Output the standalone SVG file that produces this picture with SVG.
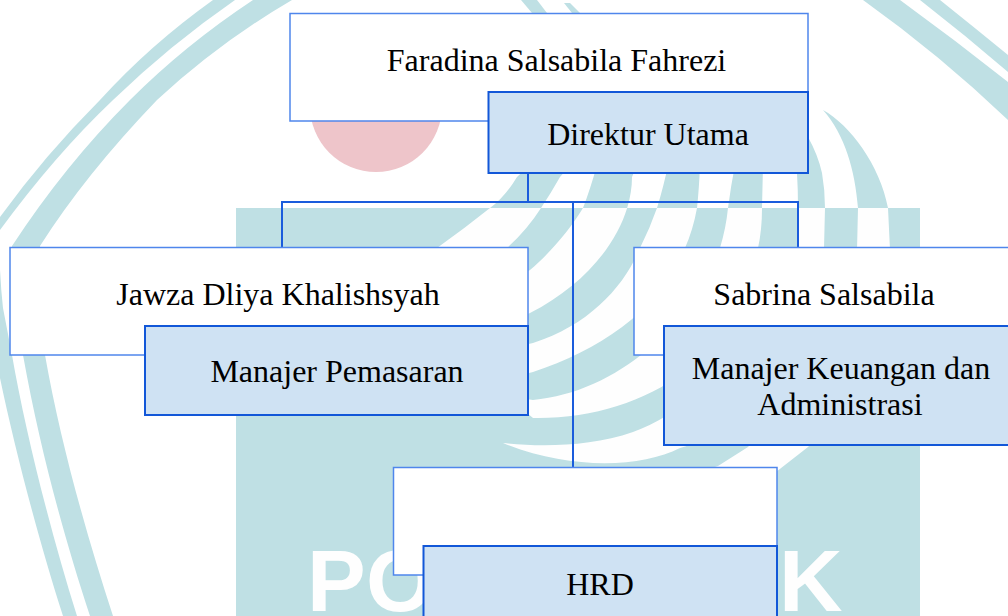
<svg xmlns="http://www.w3.org/2000/svg" width="1008" height="616" viewBox="0 0 1008 616">
<style>
.t{fill:#bfe0e4}
.w{fill:#fefefe}
.wm{font-family:"Liberation Sans",Arial,sans-serif;font-weight:700;font-size:88px;fill:#fefefe}
.name{fill:#fff;stroke:#4f86ec;stroke-width:1.5}
.role{fill:#cfe2f3;stroke:#1257d8;stroke-width:2}
.lbl{font-family:"Liberation Serif","Times New Roman",serif;font-size:32px;fill:#000;text-anchor:middle}
.c{fill:none;stroke:#1a5cdc;stroke-width:2}
</style>
<defs>
<clipPath id="above"><rect x="0" y="0" width="1008" height="208"/></clipPath>
<clipPath id="sq"><rect x="236" y="208" width="684" height="408"/></clipPath>
<g id="bands">
<path d="M535 160L575 160L560 177Q551 193 541 208Q527 230 507 248L507 262L437 262L437 248Q465 228 490 208Q505 197 517 177Z"/>
<path d="M597 165L637 165L632 177C632 225 595 280 530 313L480 335L480 300L530 270C548 255 570 230 583 208Q590 190 597 165Z"/>
<path d="M668 165L700 165Q699 190 697 208Q693 230 685 248C660 310 600 350 533 372L480 385L480 355L533 343C590 325 625 285 640 248Q650 228 657 208Q664 185 668 165Z"/>
<path d="M735 165L763 165L762 208Q762 230 758 248C745 350 650 420 533 418L527 413L500 405L500 395L533 400C620 392 695 320 720 248Q726 228 728 208Q731 185 735 165Z"/>
<path d="M790 120L808 137Q818 155 822 173Q825 190 825 208L824 248C820 340 745 430 680 448C640 468 570 470 503 443C540 447 590 447 633 432C700 408 790 320 798 248L798 208Q798 190 797 173Z"/>
<path d="M823 110C850 125 880 165 888 208L890 250C890 330 850 410 808 447L776 472L700 530L560 530L600 505L718 466L748 447C800 390 855 320 857 250L858 208C855 170 845 135 823 110Z"/>
</g>
</defs>
<rect width="1008" height="616" fill="#fff"/>
<g id="watermark">
<circle cx="376" cy="106" r="66" fill="#eec5ca"/>
<path class="t" d="M213 0Q150 45 100 100Q45 155 0 217L0 230Q55 155 113 100Q170 45 235 0Z"/>
<path class="t" d="M0 270Q1 290 3 308L12 355C25 430 50 530 77 616L63 616C40 545 15 450 0 378Z"/>
<path class="t" d="M253 0Q185 45 130 100Q65 165 12 246L13 300L23 355C40 450 65 540 90 616L113 616C85 530 60 440 45 355L40 300L40 246Q85 175 157 100Q220 42 292 0Z"/>
<path class="t" d="M863 0Q940 55 1008 120L1008 82Q955 40 900 0Z"/>
<path class="t" d="M920 0Q965 35 1008 72L1008 55Q975 28 940 0Z"/>
<path class="t" d="M521 0L537 0L547 13L532 13Z"/>
<path class="t" d="M564 3L570 3L580 13L572 13Z"/>
<rect class="t" x="236" y="208" width="684" height="408"/>
<use href="#bands" class="t" clip-path="url(#above)"/>
<use href="#bands" class="w" clip-path="url(#sq)"/>
<text class="wm" x="307" y="611">P</text>
<text class="wm" x="366" y="611">O</text>
<text class="wm" x="779" y="611">K</text>
</g>
<g id="connectors">
<path class="c" d="M528 173V202"/>
<path class="c" d="M282 247V202H798V247"/>
<path class="c" d="M573 202V467"/>
</g>
<g id="node-faradina">
<rect class="name" x="290" y="13.500" width="518" height="107.500"/>
<rect class="role" x="488.500" y="92" width="319.500" height="81"/>
<text class="lbl" x="556.500" y="71">Faradina Salsabila Fahrezi</text>
<text class="lbl" x="648" y="145">Direktur Utama</text>
</g>
<g id="node-jawza">
<rect class="name" x="10" y="247.500" width="518" height="107.500"/>
<rect class="role" x="145" y="326" width="383" height="89"/>
<text class="lbl" x="278" y="305">Jawza Dliya Khalishsyah</text>
<text class="lbl" x="337" y="382">Manajer Pemasaran</text>
</g>
<g id="node-sabrina">
<rect class="name" x="634" y="247.500" width="390" height="107.500"/>
<rect class="role" x="664" y="326" width="360" height="119"/>
<text class="lbl" x="824" y="305">Sabrina Salsabila</text>
<text class="lbl" x="841" y="379">Manajer Keuangan dan</text>
<text class="lbl" x="840" y="415">Administrasi</text>
</g>
<g id="node-hrd">
<rect class="name" x="393.500" y="467.500" width="383.500" height="107.500"/>
<rect class="role" x="423.500" y="546" width="353.500" height="90"/>
<text class="lbl" x="600" y="595">HRD</text>
</g>
</svg>
